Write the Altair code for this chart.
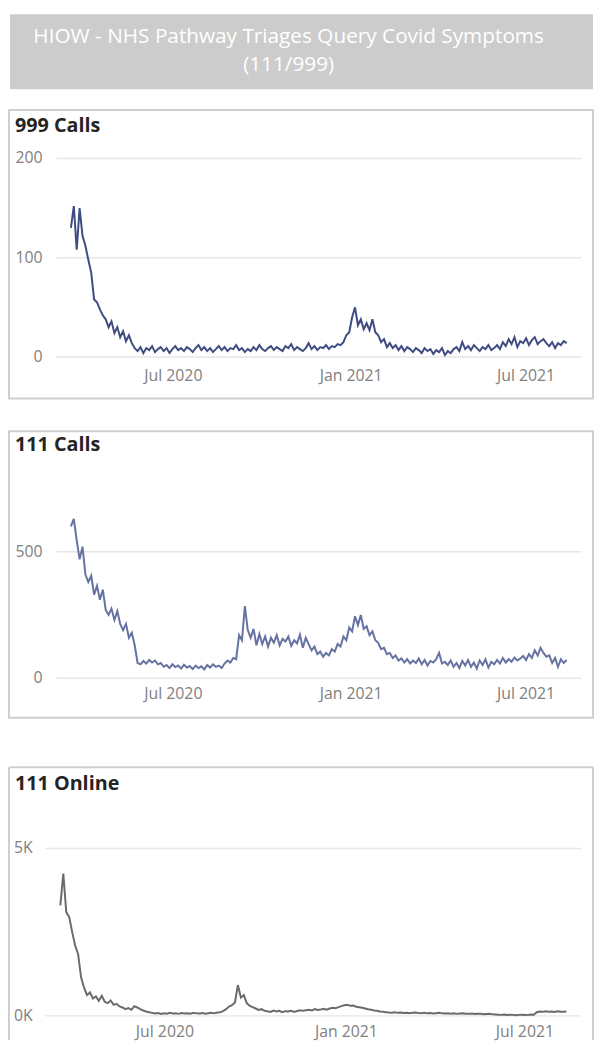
import altair as alt
import pandas as pd

# ---------------- data (one value every 3 days) ----------------
start_date = "2020-03-17"
step_days = 3

calls_999 = [
    130, 152, 108, 150, 122, 112, 98, 85, 58, 55, 48, 42, 38, 30, 36, 24, 30, 20, 26, 16, 22, 14, 9,
    6, 10, 4, 9, 7, 11, 5, 8, 10, 6, 9, 4, 8, 11, 7, 9, 6, 10, 8, 5, 9, 12, 7, 10, 6, 9, 5, 8, 11, 7,
    10, 6, 9, 8, 12, 7, 9, 5, 8, 6, 10, 7, 12, 8, 6, 9, 11, 7, 10, 8, 6, 11, 9, 13, 7, 10, 8, 6, 9,
    14, 8, 11,
    7, 10, 9, 12, 8, 11, 10, 13, 12, 15,
    22, 25, 40, 50, 32, 38, 28, 34, 27, 38, 25, 22, 15, 18, 10,
    14, 9, 12, 7, 11, 6, 10, 8, 5, 9,
    7, 4, 9, 6, 8, 3, 7, 5, 9, 2, 6, 4, 8,
    10, 6, 15, 8, 11, 7, 12, 9, 6, 10, 8, 12, 7, 9,
    12, 8, 15, 11, 18, 13, 20, 10, 16, 14, 19, 12, 17, 20, 13, 16, 18, 14, 11, 15, 9, 14, 12, 16, 14,
]

calls_111 = [
    600, 630, 545, 470, 520, 410, 380, 405, 330, 365, 310, 350, 270, 250, 275, 230, 265, 215, 190,
    215, 160, 180, 130, 60, 55, 68, 58, 72, 62, 70, 55,
    60, 45, 52, 40, 55, 44, 50, 38, 53, 42, 48, 36, 50, 40, 47, 35, 52, 42, 55, 45, 50, 40,
    58, 70, 62, 80, 75, 170, 150, 285, 190, 160, 195, 130,
    175, 135, 165, 125, 160, 140, 170, 130, 155, 145, 165, 128, 150, 138, 172, 120, 160,
    135, 110, 125, 95, 105, 85, 100, 90, 115, 105, 135, 125, 165, 150, 200, 185,
    245, 210, 250, 195, 205, 170, 185, 150, 140, 115, 120, 95,
    100, 80, 90, 70, 78, 62, 75, 58, 70,
    60, 78, 55, 72, 50, 68, 62, 75, 100, 58, 65, 52, 70, 45,
    60, 40, 68, 50, 72, 45, 62, 38, 70, 52, 75, 42, 65, 55,
    72, 58, 80, 62, 75, 65, 82, 70, 78, 88, 72,
    95, 80, 110, 90, 120, 100, 85,
    90, 60, 80, 45, 75, 60, 72,
]

online_111 = [
    3300, 4250, 3100, 2950, 2500, 2100, 1850, 1150, 850, 620, 700, 520, 580, 450, 600, 420, 380,
    460, 330, 360, 280, 250, 200, 230, 180, 290, 250, 200, 160, 130, 110,
    90, 70, 85, 60, 80, 65, 90, 70, 75, 60, 85, 70, 80, 65, 90, 75, 70, 85, 65, 80, 90, 75, 100, 110,
    140, 200, 280, 320, 400, 920, 550, 620, 380, 300, 260, 220, 180, 200, 150,
    140, 120, 160, 130, 150, 110, 140, 130, 155, 120, 145, 170, 150, 165, 180, 160, 200, 175, 190,
    210, 185, 220, 240, 230,
    260, 290, 320, 330, 300, 310, 270, 260, 240, 220, 200, 185, 160, 150, 130, 120,
    110, 100, 95, 110, 90, 100, 85, 95, 80, 90, 100, 85, 80, 95, 75, 85, 70, 80, 90, 75, 70, 80, 65,
    75, 60, 70, 80, 65, 60, 70, 55, 65, 60, 50, 55, 60, 45,
    40, 35, 30, 40, 25, 35, 30, 20, 30, 35, 25, 30, 40, 35,
    110, 130, 120, 140, 125, 130, 115, 135, 120, 125, 130,
]

title_lines = ["HIOW - NHS Pathway Triages Query Covid Symptoms", "(111/999)"]
panel_titles = ["999 Calls", "111 Calls", "111 Online"]
x_tick_dates = ["2020-07-01", "2021-01-01", "2021-07-01"]
x_tick_labels = ["Jul 2020", "Jan 2021", "Jul 2021"]
x_domain = ["2020-03-02", "2021-08-27"]
y_ticks_999 = [0, 100, 200]
y_labels_999 = ["0", "100", "200"]
y_ticks_111 = [0, 500]
y_labels_111 = ["0", "500"]
y_ticks_online = [0, 5000]
y_labels_online = ["0K", "5K"]

dates = pd.date_range(start_date, periods=len(calls_999), freq=f"{step_days}D").strftime("%Y-%m-%d")
df = pd.DataFrame({"date": list(dates), "c999": calls_999, "c111": calls_111, "online": online_111})
xt = pd.DataFrame({"d": x_tick_dates, "label": x_tick_labels})

# ---------------- styling / layout (pixels inside the single plot area) ----------------
W, H = 593, 1038
FONT = "Open Sans"
GRID = "#e6e6e6"
BORDER = "#cfcfcf"
LABEL = "#808080"
TITLE_C = "#252423"

one = alt.Data(values=[{"k": 1}])


def to_dt(s):
    y, m, d = (int(p) for p in s.split("-"))
    return alt.DateTime(year=y, month=m, date=d)


xdom = [to_dt(s) for s in x_domain]


def panel(field, color, yticks, ylabels, ydom, yrange, xrange, ylab_x, xlab_y):
    xs = alt.Scale(domain=xdom, range=xrange)
    ys = alt.Scale(domain=ydom, range=yrange, nice=False, zero=False)
    yt = pd.DataFrame({"v": yticks, "label": ylabels})
    grid = alt.Chart(yt).mark_rule(color=GRID, strokeWidth=1.5).encode(
        y=alt.Y("v:Q", scale=ys, axis=None),
        x=alt.value(xrange[0]), x2=alt.value(xrange[1]))
    ylab = alt.Chart(yt).mark_text(align="right", baseline="middle", font=FONT, fontSize=16,
                                   color=LABEL).encode(
        y=alt.Y("v:Q", scale=ys, axis=None), x=alt.value(ylab_x), text="label:N")
    line = alt.Chart(df).mark_line(color=color, strokeWidth=2).encode(
        x=alt.X("date:T", scale=xs, axis=None),
        y=alt.Y(f"{field}:Q", scale=ys, axis=None))
    xlab = alt.Chart(xt).mark_text(align="center", baseline="middle", font=FONT, fontSize=16,
                                   color=LABEL).encode(
        x=alt.X("d:T", scale=xs, axis=None), y=alt.value(xlab_y), text="label:N")
    return alt.layer(grid, line, ylab, xlab)


def border_rect(x1, x2, y1, y2):
    return alt.Chart(one).mark_rect(fill="white", fillOpacity=0, stroke=BORDER, strokeWidth=2).encode(
        x=alt.value(x1), x2=alt.value(x2), y=alt.value(y1), y2=alt.value(y2))


def title_text(s, x, y):
    return alt.Chart(one).mark_text(align="left", baseline="alphabetic", font=FONT, fontSize=20,
                                    fontWeight="bold", color=TITLE_C).encode(
        x=alt.value(x), y=alt.value(y), text=alt.value(s))


head_bg = alt.Chart(one).mark_rect(fill="#cccccc").encode(
    x=alt.value(2), x2=alt.value(592), y=alt.value(0), y2=alt.value(76))
head_t = [
    alt.Chart(one).mark_text(align="center", baseline="middle", font=FONT, fontSize=21,
                             color="white").encode(
        x=alt.value(284), y=alt.value(yy), text=alt.value(s))
    for s, yy in zip(title_lines, [23, 52])
]

rule = alt.Chart(one).mark_rule(color=BORDER, strokeWidth=2)
p3_border = [
    rule.encode(x=alt.value(1), y=alt.value(762), y2=alt.value(H)),
    rule.encode(x=alt.value(592), y=alt.value(762), y2=alt.value(H)),
    rule.encode(x=alt.value(1), x2=alt.value(592), y=alt.value(762)),
]

p1 = panel("c999", "#3F4C82", y_ticks_999, y_labels_999, [0, 200], [347, 146], [49, 580], 35, 366)
p2 = panel("c111", "#6672A2", y_ticks_111, y_labels_111, [0, 800], [672, 467.2], [49, 580], 35, 688)
p3 = panel("online", "#6B6B6B", y_ticks_online, y_labels_online, [0, 5000], [1013.7, 844.3],
           [38, 580], 25, 1030)

chart = alt.layer(
    head_bg, *head_t,
    border_rect(1, 592, 97, 389), title_text(panel_titles[0], 7, 119),
    border_rect(1, 592, 422, 712), title_text(panel_titles[1], 7, 442),
    *p3_border, title_text(panel_titles[2], 7, 785),
    p1, p2, p3,
).resolve_scale(x="independent", y="independent").properties(
    width=W, height=H, padding=0
).configure_view(strokeWidth=0)

chart.save("out.html", embed_options={"renderer": "svg", "actions": False})
